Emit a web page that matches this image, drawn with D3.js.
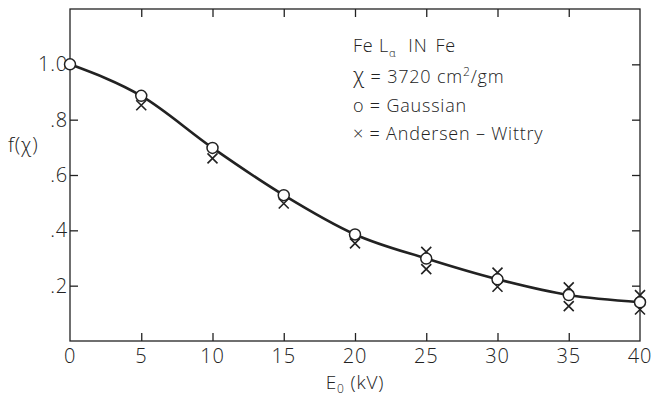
<!DOCTYPE html>
<html>
<head>
<meta charset="utf-8">
<script src="https://cdn.jsdelivr.net/npm/d3@7"></script>
<style>
  body { margin: 0; background: #fff; }
  svg { display: block; }
  text { font-family: "Open Sans", "Liberation Sans", sans-serif; font-weight: 300; fill: #222; letter-spacing: 0.8px; }
</style>
</head>
<body>
<svg id="chart" width="654" height="397"></svg>
<script>
// energies (kV) and f(chi) values
var energies = [0, 5, 10, 15, 20, 25, 30, 35, 40];
var gaussian = [1.0, 0.886, 0.698, 0.527, 0.385, 0.298, 0.223, 0.166, 0.140];
var andersenE = [5, 10, 15, 20, 25, 25, 30, 30, 35, 35, 40, 40];
var andersen = [0.852, 0.66, 0.497, 0.353, 0.322, 0.26, 0.247, 0.196, 0.194, 0.126, 0.166, 0.114];
var xTicks = [0, 5, 10, 15, 20, 25, 30, 35, 40];
var yTicks = [0.2, 0.4, 0.6, 0.8, 1.0];
var yTickLabels = [".2", ".4", ".6", ".8", "1.0"];

var svg = d3.select("#chart");
var padL = 70, padR = 640, padT = 9, padB = 341;

var x = d3.scaleLinear().domain([0, 40]).range([padL, padR]);
var y = d3.scaleLinear().domain([0, 1.2]).range([padB, padT]);

var ink = "#222";

// frame
svg.append("rect")
  .attr("x", padL).attr("y", padT)
  .attr("width", padR - padL).attr("height", padB - padT)
  .attr("fill", "none").attr("stroke", ink).attr("stroke-width", 1.3);

// axes with inward ticks
var tickLen = 8;
svg.append("g").attr("transform", "translate(0," + padB + ")")
  .call(d3.axisTop(x).tickValues(xTicks.slice(1, -1)).tickSize(tickLen).tickFormat(""))
  .call(g => g.select(".domain").remove());
svg.append("g").attr("transform", "translate(0," + padT + ")")
  .call(d3.axisBottom(x).tickValues(xTicks.slice(1, -1)).tickSize(tickLen).tickFormat(""))
  .call(g => g.select(".domain").remove());
svg.append("g").attr("transform", "translate(" + padL + ",0)")
  .call(d3.axisRight(y).tickValues(yTicks.slice(0, 4)).tickSize(tickLen).tickFormat(""))
  .call(g => g.select(".domain").remove());
svg.append("g").attr("transform", "translate(" + padR + ",0)")
  .call(d3.axisLeft(y).tickValues(yTicks).tickSize(tickLen).tickFormat(""))
  .call(g => g.select(".domain").remove());
svg.selectAll(".tick line").attr("stroke", ink).attr("stroke-width", 1.3);

// tick labels
svg.append("g").selectAll("text").data(xTicks).enter().append("text")
  .attr("x", d => x(d)).attr("y", padB + 22)
  .attr("text-anchor", "middle").attr("font-size", 20)
  .text(d => d);
svg.append("g").selectAll("text").data(yTicks).enter().append("text")
  .attr("x", padL - 2).attr("y", d => y(d) + 7)
  .attr("text-anchor", "end").attr("font-size", 20)
  .text((d, i) => yTickLabels[i]);

// axis titles
var xt = svg.append("text").attr("x", 355).attr("y", 389)
  .attr("text-anchor", "middle").attr("font-size", 19);
xt.append("tspan").text("E");
xt.append("tspan").attr("font-size", 12).attr("dy", 4).text("0");
xt.append("tspan").attr("dy", -4).text(" (kV)");

svg.append("text").attr("x", 8).attr("y", 152).attr("font-size", 20).text("f(χ)");

// curve
var line = d3.line()
  .x((d, i) => x(energies[i]))
  .y(d => y(d))
  .curve(d3.curveMonotoneX);
svg.append("path").datum(gaussian)
  .attr("d", line)
  .attr("fill", "none").attr("stroke", ink).attr("stroke-width", 2.6);

// Andersen-Wittry crosses
var cs = 5;
svg.append("g").selectAll("path").data(andersen).enter().append("path")
  .attr("transform", (d, i) => "translate(" + x(andersenE[i]) + "," + y(d) + ")")
  .attr("d", "M" + -cs + "," + -cs + "L" + cs + "," + cs + "M" + cs + "," + -cs + "L" + -cs + "," + cs)
  .attr("stroke", ink).attr("stroke-width", 1.6).attr("fill", "none");

// Gaussian circles
svg.append("g").selectAll("circle").data(gaussian).enter().append("circle")
  .attr("cx", (d, i) => x(energies[i])).attr("cy", d => y(d))
  .attr("r", 5.5)
  .attr("fill", "#fff").attr("stroke", ink).attr("stroke-width", 1.5);

// legend block
var lg = svg.append("g").attr("font-size", 18).style("letter-spacing", "1.6px");
var l1 = lg.append("text").attr("x", 353).attr("y", 52);
l1.append("tspan").text("Fe L");
l1.append("tspan").attr("font-size", 11).attr("dy", 5).text("α");
l1.append("tspan").attr("dy", -5).attr("dx", 12).text("IN");
l1.append("tspan").attr("dx", 8).text("Fe");

var l2 = lg.append("text").attr("x", 353).attr("y", 83);
l2.append("tspan").attr("font-size", 22).text("χ");
l2.append("tspan").text(" = 3720 cm");
l2.append("tspan").attr("font-size", 12).attr("dy", -7).text("2");
l2.append("tspan").attr("dy", 7).text("/gm");

lg.append("text").attr("x", 353).attr("y", 112).text("o = Gaussian");
lg.append("text").attr("x", 353).attr("y", 140).text("× = Andersen – Wittry");
</script>
</body>
</html>
